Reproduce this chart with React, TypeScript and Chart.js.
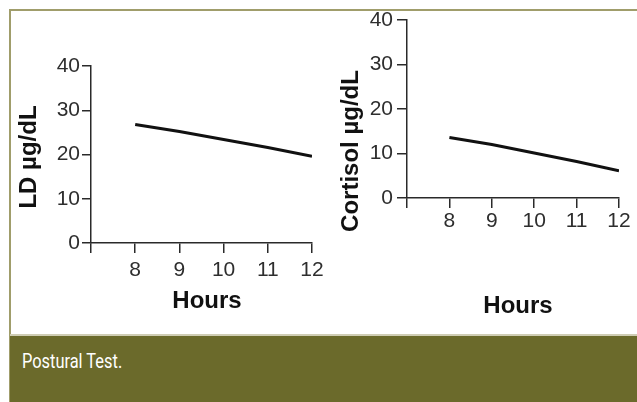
import React, { useEffect, useRef } from "react";
import { Chart, registerables } from "chart.js";

Chart.register(...registerables);

const hours = [8, 9, 10, 11, 12];
const ldValues = [26.8, 25.2, 23.4, 21.6, 19.6];
const cortisolValues = [13.6, 12.0, 10.1, 8.2, 6.1];
const xTickValues = [7, 8, 9, 10, 11, 12];
const ldTitle = "LD µg/dL";
const cortisolTitle = "Cortisol µg/dL";
const xTitle = "Hours";
const caption = "Postural Test.";

const TICK_FONT = { family: "'Liberation Sans', Arial, sans-serif", size: 21, weight: "normal" as const };
const TITLE_FONT = "bold 24px 'Liberation Sans', Arial, sans-serif";
const AXIS_COLOR = "#2a2a2a";

const titlesPlugin = {
  id: "customTitles",
  afterDraw(chart: any, _args: any, opts: any) {
    const { ctx, chartArea } = chart;
    const cx = (chartArea.left + chartArea.right) / 2;
    const cy = (chartArea.top + chartArea.bottom) / 2;
    ctx.save();
    ctx.fillStyle = "#111";
    ctx.font = TITLE_FONT;
    ctx.textAlign = "center";
    ctx.textBaseline = "middle";
    ctx.fillText(opts.xText, cx + opts.xdx, chartArea.bottom + opts.xdy);
    ctx.translate(chartArea.left + opts.ydx, cy + opts.ydy);
    ctx.rotate(-Math.PI / 2);
    ctx.fillText(opts.yText, 0, 0);
    ctx.restore();
  },
};

type Cfg = {
  values: number[];
  yTitle: string;
  padTop: number;
  padRight: number;
  yWidth: number;
  xHeight: number;
  xTickLen: number;
  xTickPad: number;
  yTickLen: number;
  yTickPad: number;
  xdx: number;
  xdy: number;
  ydx: number;
  ydy: number;
};

function Panel({ cfg, left, width, height }: { cfg: Cfg; left: number; width: number; height: number }) {
  const ref = useRef<HTMLCanvasElement>(null);
  useEffect(() => {
    if (!ref.current) return;
    const chart = new Chart(ref.current, {
      type: "line",
      data: {
        datasets: [
          {
            data: hours.map((h, i) => ({ x: h, y: cfg.values[i] })),
            borderColor: "#111",
            borderWidth: 3,
            pointRadius: 0,
            tension: 0,
            fill: false,
          },
        ],
      },
      options: {
        responsive: false,
        animation: false,
        devicePixelRatio: 1,
        layout: { padding: { top: cfg.padTop, right: cfg.padRight, left: 0, bottom: 0 } },
        plugins: {
          legend: { display: false },
          tooltip: { enabled: false },
          customTitles: {
            xText: xTitle,
            yText: cfg.yTitle,
            xdx: cfg.xdx,
            xdy: cfg.xdy,
            ydx: cfg.ydx,
            ydy: cfg.ydy,
          },
        } as any,
        scales: {
          x: {
            type: "linear",
            min: 7,
            max: 12,
            afterBuildTicks: (s: any) => {
              s.ticks = xTickValues.map((v) => ({ value: v }));
            },
            afterFit: (s: any) => {
              s.height = cfg.xHeight;
            },
            ticks: {
              color: "#2e2e2e",
              font: TICK_FONT,
              padding: cfg.xTickPad,
              maxRotation: 0,
              autoSkip: false,
              callback: (v: any) => (v === 7 ? "" : String(v)),
            },
            grid: {
              display: true,
              drawOnChartArea: false,
              drawTicks: true,
              tickLength: cfg.xTickLen,
              color: AXIS_COLOR,
              lineWidth: 1.5,
            },
            border: { display: true, color: AXIS_COLOR, width: 1.5 },
          },
          y: {
            min: 0,
            max: 40,
            afterFit: (s: any) => {
              s.width = cfg.yWidth;
            },
            ticks: {
              stepSize: 10,
              color: "#2e2e2e",
              font: TICK_FONT,
              padding: cfg.yTickPad,
            },
            grid: {
              display: true,
              drawOnChartArea: false,
              drawTicks: true,
              tickLength: cfg.yTickLen,
              color: AXIS_COLOR,
              lineWidth: 1.5,
            },
            border: { display: true, color: AXIS_COLOR, width: 1.5 },
          },
        },
      },
      plugins: [titlesPlugin],
    });
    return () => chart.destroy();
  }, [cfg]);
  return (
    <canvas
      ref={ref}
      width={width}
      height={height}
      style={{ position: "absolute", left, top: 0, width, height }}
    />
  );
}

const leftCfg: Cfg = {
  values: ldValues,
  yTitle: ldTitle,
  padTop: 66,
  padRight: 18,
  yWidth: 91,
  xHeight: 87,
  xTickLen: 10,
  xTickPad: 5,
  yTickLen: 9,
  yTickPad: 2,
  xdx: 5.5,
  xdy: 58,
  ydx: -62,
  ydy: 2.5,
};

const rightCfg: Cfg = {
  values: cortisolValues,
  yTitle: cortisolTitle,
  padTop: 20,
  padRight: 18,
  yWidth: 77,
  xHeight: 132,
  xTickLen: 10,
  xTickPad: 1,
  yTickLen: 10,
  yTickPad: 4,
  xdx: 5,
  xdy: 108,
  ydx: -56,
  ydy: 42,
};

export default function App() {
  const frame = "#a09d6b";
  return (
    <div
      style={{
        position: "fixed",
        left: 0,
        top: 0,
        width: 637,
        height: 402,
        background: "#ffffff",
        overflow: "hidden",
      }}
    >
      <div style={{ position: "absolute", left: 9, top: 9, width: 628, height: 2, background: frame }} />
      <div style={{ position: "absolute", left: 9, top: 9, width: 2, height: 393, background: frame }} />
      <div style={{ position: "absolute", left: 10, top: 334, width: 627, height: 2, background: "#cfcdb4" }} />
      <div
        style={{
          position: "absolute",
          left: 10,
          top: 336,
          width: 627,
          height: 66,
          background: "#6b6a2b",
        }}
      >
        <span
          style={{
            position: "absolute",
            left: 12,
            top: 12,
            color: "#ffffff",
            fontFamily: "Roboto, 'Liberation Sans', sans-serif",
            fontSize: 20,
            fontWeight: 400,
            lineHeight: "26px",
            transform: "scaleX(0.82)",
            transformOrigin: "left center",
            whiteSpace: "nowrap",
          }}
        >
          {caption}
        </span>
      </div>
      <Panel cfg={leftCfg} left={0} width={330} height={330} />
      <Panel cfg={rightCfg} left={330} width={307} height={330} />
    </div>
  );
}
